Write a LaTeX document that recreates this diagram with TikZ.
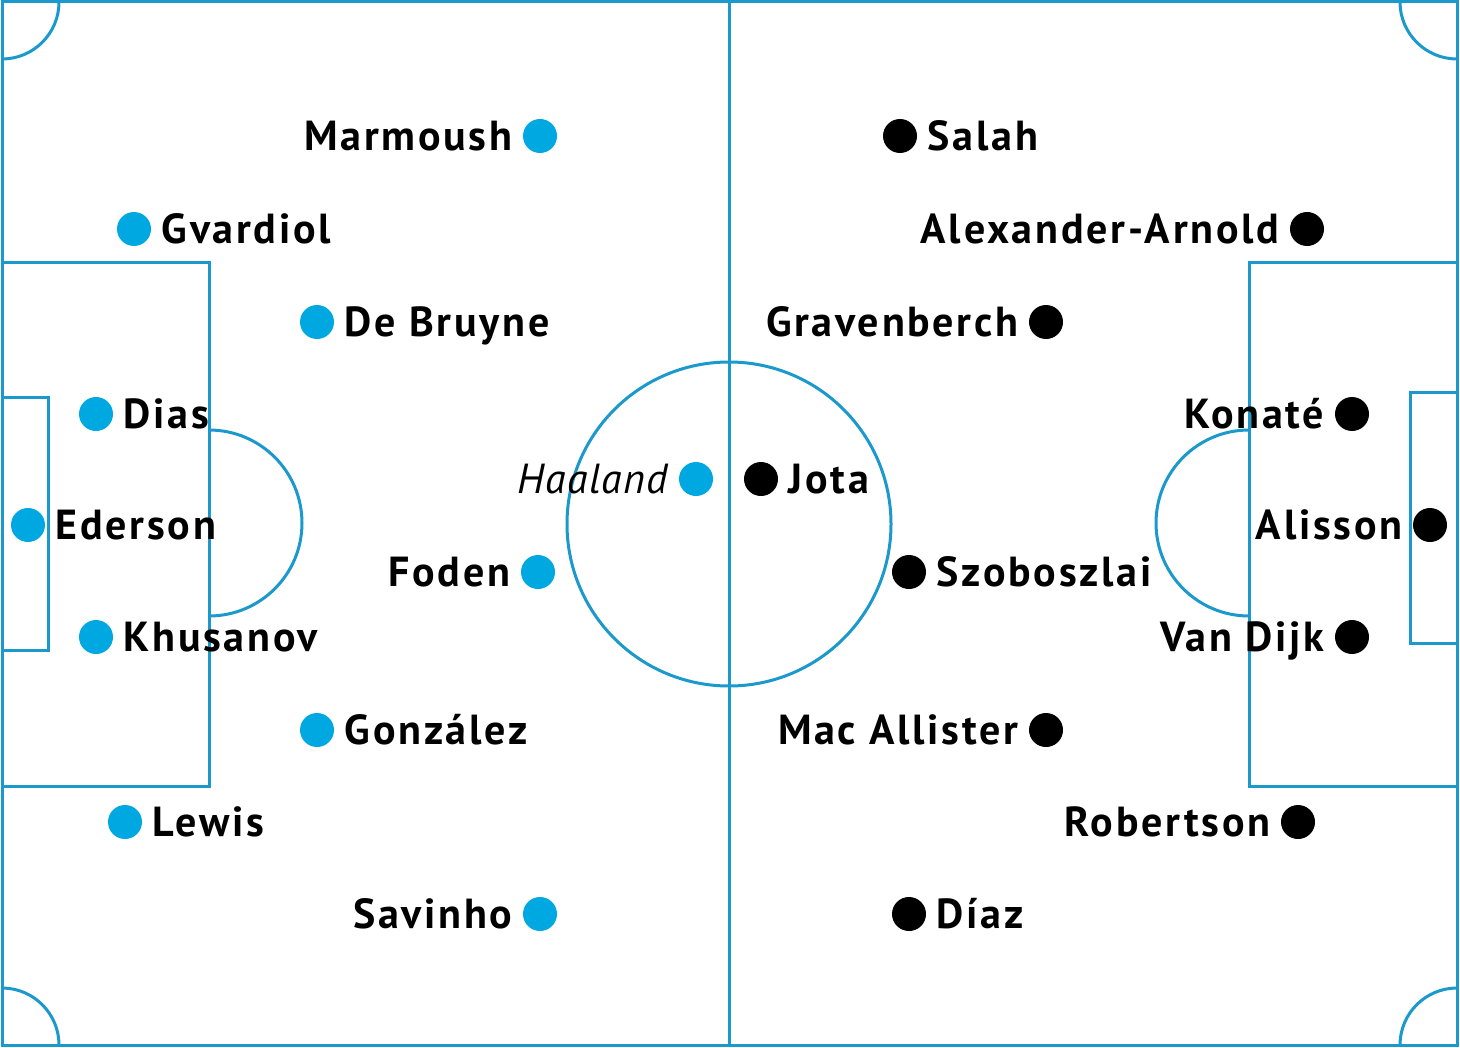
\documentclass[tikz,border=0pt]{standalone}
\usepackage{fontspec}
\setmainfont{PT Sans}[LetterSpace=6.5, ItalicFeatures={LetterSpace=3}]
\usetikzlibrary{positioning}
\definecolor{pitchline}{RGB}{27,152,204}
\definecolor{cityblue}{RGB}{0,168,226}

\begin{document}
\begin{tikzpicture}[x=0.5pt, y=-0.5pt,
  pitch/.style={pitchline, line width=1.5pt},
  city/.style={circle, fill=cityblue, inner sep=0pt, minimum size=17pt},
  pool/.style={circle, fill=black, inner sep=0pt, minimum size=17pt},
  plyr/.style={font=\bfseries\fontsize{21}{24}\selectfont, inner sep=0pt,
    text height=14.7pt, text depth=0pt},
  doubt/.style={plyr, font=\itshape\fontsize{21}{24}\selectfont},
  node distance=5pt]
\useasboundingbox (0,0) rectangle (1460,1048);
% pitch
\draw[pitch] (2,2) rectangle (1457,1045);
\draw[pitch] (729,2) -- (729,1045);
\draw[pitch] (729,524) circle[radius=162];
\draw[pitch] (2,262) rectangle (209,786);
\draw[pitch] (2,397) rectangle (48,650);
\draw[pitch] (209,430) arc[start angle=-90, end angle=90, radius=93];
\draw[pitch] (1249,262) rectangle (1457,786);
\draw[pitch] (1410,392) rectangle (1457,643);
\draw[pitch] (1249,430) arc[start angle=-90, end angle=-270, radius=93];
% corners
\draw[pitch] (59,2) arc[start angle=0, end angle=90, radius=57];
\draw[pitch] (1400,2) arc[start angle=180, end angle=90, radius=57];
\draw[pitch] (59,1045) arc[start angle=0, end angle=-90, radius=57];
\draw[pitch] (1400,1045) arc[start angle=180, end angle=270, radius=57];

% Man City
\node[city] (ederson) at (28,525) {};
\node[plyr, right=of ederson] {Ederson};
\node[city] (gvardiol) at (134,229) {};
\node[plyr, right=of gvardiol] {Gvardiol};
\node[city] (dias) at (96,414) {};
\node[plyr, right=of dias] {Dias};
\node[city] (khusanov) at (96,637) {};
\node[plyr, right=of khusanov] {Khusanov};
\node[city] (lewis) at (125,822) {};
\node[plyr, right=of lewis] {Lewis};
\node[city] (debruyne) at (317,322) {};
\node[plyr, right=of debruyne] {De Bruyne};
\node[city] (gonzalez) at (317,730) {};
\node[plyr, right=of gonzalez] {González};
\node[city] (marmoush) at (540,136) {};
\node[plyr, left=of marmoush] {Marmoush};
\node[city] (foden) at (538,572) {};
\node[plyr, left=of foden] {Foden};
\node[city] (savinho) at (540,914) {};
\node[plyr, left=of savinho] {Savinho};
\node[city] (haaland) at (696,479) {};
\node[doubt, left=of haaland] {Haaland};

% Liverpool
\node[pool] (alisson) at (1430,525) {};
\node[plyr, left=of alisson] {Alisson};
\node[pool] (trent) at (1307,229) {};
\node[plyr, left=of trent] {Alexander-Arnold};
\node[pool] (konate) at (1352,414) {};
\node[plyr, left=of konate] {Konaté};
\node[pool] (vandijk) at (1352,637) {};
\node[plyr, left=of vandijk] {Van Dijk};
\node[pool] (robertson) at (1298,822) {};
\node[plyr, left=of robertson] {Robertson};
\node[pool] (gravenberch) at (1046,322) {};
\node[plyr, left=of gravenberch] {Gravenberch};
\node[pool] (macallister) at (1046,730) {};
\node[plyr, left=of macallister] {Mac Allister};
\node[pool] (salah) at (900,136) {};
\node[plyr, right=of salah] {Salah};
\node[pool] (szoboszlai) at (909,572) {};
\node[plyr, right=of szoboszlai] {Szoboszlai};
\node[pool] (diaz) at (909,914) {};
\node[plyr, right=of diaz] {Díaz};
\node[pool] (jota) at (761,479) {};
\node[plyr, right=of jota] {Jota};
\end{tikzpicture}
\end{document}
